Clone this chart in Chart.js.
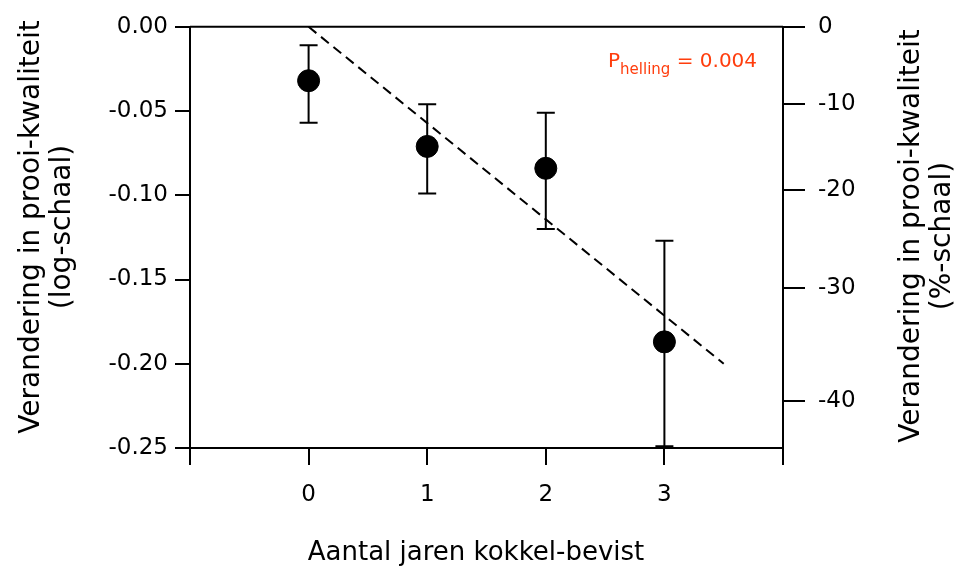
<!DOCTYPE html>
<html>
<head>
<meta charset="utf-8">
<script src="https://cdn.jsdelivr.net/npm/chart.js@4/dist/chart.umd.min.js"></script>
<style>
  html, body { margin: 0; padding: 0; background: #fff; }
  #wrap { width: 964px; height: 569px; position: relative; }
</style>
</head>
<body>
<div id="wrap"><canvas id="chart"></canvas></div>
<script>
// jaren kokkel-bevist en verandering (log-schaal)
const years = [0, 1, 2, 3];
const meanLog = [-0.032, -0.071, -0.084, -0.187];
const errHigh = [-0.011, -0.046, -0.051, -0.127];
const errLow = [-0.057, -0.099, -0.120, -0.249];

// regressielijn
const fitX = [0, 3.5];
const fitY = [0, -0.2];

// rechter as in procenten
const pctTicks = [0, -10, -20, -30, -40];

const FONT = "'DejaVu Sans', Verdana, sans-serif";

const errorBars = {
  id: 'errorBars',
  afterDatasetsDraw(chart) {
    const { ctx, scales: { x, y } } = chart;
    ctx.save();
    ctx.strokeStyle = '#000';
    ctx.lineWidth = 2;
    years.forEach((yr, i) => {
      const px = x.getPixelForValue(yr);
      const top = y.getPixelForValue(errHigh[i]);
      const bot = y.getPixelForValue(errLow[i]);
      ctx.beginPath();
      ctx.moveTo(px, top); ctx.lineTo(px, bot);
      ctx.moveTo(px - 9, top); ctx.lineTo(px + 9, top);
      ctx.moveTo(px - 9, bot); ctx.lineTo(px + 9, bot);
      ctx.stroke();
    });
    ctx.restore();
  }
};

const extras = {
  id: 'extras',
  afterDraw(chart) {
    const { ctx, chartArea: a } = chart;
    ctx.save();
    // bovenrand
    ctx.strokeStyle = '#000';
    ctx.lineWidth = 2;
    ctx.beginPath();
    ctx.moveTo(a.left, a.top); ctx.lineTo(a.right, a.top);
    ctx.stroke();

    ctx.fillStyle = '#000';
    ctx.font = '28px ' + FONT;
    ctx.textAlign = 'center';
    ctx.textBaseline = 'middle';

    // linker astitel
    ctx.save();
    ctx.translate(32, 227);
    ctx.rotate(-Math.PI / 2);
    ctx.fillText('Verandering in prooi-kwaliteit', 0, 0);
    ctx.fillText('(log-schaal)', 0, 31);
    ctx.restore();

    // rechter astitel
    ctx.save();
    ctx.translate(912, 236);
    ctx.rotate(-Math.PI / 2);
    ctx.fillText('Verandering in prooi-kwaliteit', 0, 0);
    ctx.fillText('(%-schaal)', 0, 31);
    ctx.restore();

    // x-titel
    ctx.font = '26px ' + FONT;
    ctx.fillText('Aantal jaren kokkel-bevist', 476, 553);

    // P-waarde
    ctx.fillStyle = '#ff3d0d';
    ctx.textAlign = 'left';
    ctx.textBaseline = 'alphabetic';
    ctx.font = '20px ' + FONT;
    let px = 608;
    ctx.fillText('P', px, 67);
    px += ctx.measureText('P').width;
    ctx.font = '15px ' + FONT;
    ctx.fillText('helling', px, 74);
    px += ctx.measureText('helling').width;
    ctx.font = '20px ' + FONT;
    ctx.fillText(' = 0.004', px, 67);
    ctx.restore();
  }
};

new Chart(document.getElementById('chart'), {
  type: 'scatter',
  data: {
    datasets: [{
      label: 'gemiddelde',
      data: years.map((v, i) => ({ x: v, y: meanLog[i] })),
      backgroundColor: '#000',
      borderColor: '#000',
      pointRadius: 11,
      pointHoverRadius: 11
    }, {
      type: 'line',
      label: 'helling',
      data: fitX.map((v, i) => ({ x: v, y: fitY[i] })),
      borderColor: '#000',
      borderWidth: 2,
      borderDash: [10, 6],
      pointRadius: 0,
      fill: false
    }]
  },
  options: {
    responsive: true,
    maintainAspectRatio: false,
    animation: false,
    layout: { padding: { top: 24, left: 0, right: 0, bottom: 0 } },
    plugins: {
      legend: { display: false },
      tooltip: { enabled: false }
    },
    scales: {
      x: {
        type: 'linear',
        min: -1,
        max: 4,
        afterFit: s => { s.height = 121; },
        border: { display: true, color: '#000', width: 2 },
        grid: { drawOnChartArea: false, drawTicks: true, tickLength: 17, color: '#000', lineWidth: 2 },
        ticks: {
          stepSize: 1,
          padding: 16,
          color: '#000',
          font: { family: FONT, size: 23 },
          callback: v => (v >= 0 && v <= 3 ? String(v) : '')
        }
      },
      y: {
        position: 'left',
        min: -0.25,
        max: 0,
        afterFit: s => { s.width = 190; },
        border: { display: true, color: '#000', width: 2 },
        grid: { drawOnChartArea: false, drawTicks: true, tickLength: 15, color: '#000', lineWidth: 2 },
        ticks: {
          stepSize: 0.05,
          padding: 7,
          color: '#000',
          font: { family: FONT, size: 23 },
          callback: v => Number(v).toFixed(2)
        }
      },
      y2: {
        position: 'right',
        min: -0.25,
        max: 0,
        afterFit: s => { s.width = 181; },
        afterBuildTicks: s => {
          s.ticks = pctTicks.map(p => ({ value: Math.log10(1 + p / 100) }));
        },
        border: { display: true, color: '#000', width: 2 },
        grid: { drawOnChartArea: false, drawTicks: true, tickLength: 22, color: '#000', lineWidth: 2 },
        ticks: {
          padding: 13,
          color: '#000',
          font: { family: FONT, size: 23 },
          callback: (v, i) => String(pctTicks[i])
        }
      }
    }
  },
  plugins: [errorBars, extras]
});
</script>
</body>
</html>
